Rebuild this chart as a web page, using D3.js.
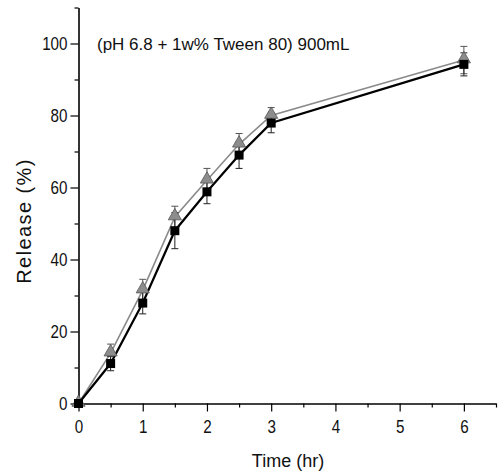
<!DOCTYPE html>
<html>
<head>
<meta charset="utf-8">
<script src="https://cdn.jsdelivr.net/npm/d3@7"></script>
<style>
  body { margin: 0; background: #fff; }
  text { font-family: "Liberation Sans", Arial, sans-serif; fill: #111; }
</style>
</head>
<body>
<div id="chart"></div>
<script>
// release data
const times = [0, 0.5, 1, 1.5, 2, 2.5, 3, 6]
const squareRelease = [0, 11.1, 27.9, 48.0, 58.8, 69.0, 77.9, 94.2]
const squareErr = [0, 2.0, 3.0, 5.0, 3.3, 3.7, 2.7, 3.2]
const triRelease = [0, 14.0, 31.5, 51.8, 62.0, 72.0, 80.0, 95.4]
const triErr = [0, 2.5, 3.0, 3.0, 3.3, 3.0, 2.2, 3.8]
const xTicks = [0, 1, 2, 3, 4, 5, 6]
const yTicks = [0, 20, 40, 60, 80, 100]
const title = "(pH 6.8 + 1w% Tween 80) 900mL"

document.addEventListener("DOMContentLoaded", draw)

function draw(){
    const width = 499, height = 476
    const svg = d3.select("#chart").append("svg")
        .attr("width", width)
        .attr("height", height)

    const x = d3.scaleLinear().domain([0, 6.5]).range([78.5, 496])
    const y = d3.scaleLinear().domain([0, 110]).range([403.5, 7.5])

    // minor ticks first, then major ones with labels
    svg.append("g")
        .attr("transform", "translate(0," + y(0) + ")")
        .call(d3.axisBottom(x).tickValues(d3.range(0.5, 6.6, 1)).tickSize(4).tickFormat(""))
        .call(g => g.select(".domain").remove())
        .selectAll("line").attr("stroke-width", 1.2)
    svg.append("g")
        .attr("transform", "translate(" + x(0) + ",0)")
        .call(d3.axisLeft(y).tickValues(d3.range(10, 111, 20)).tickSize(4).tickFormat(""))
        .call(g => g.select(".domain").remove())
        .selectAll("line").attr("stroke-width", 1.2)

    const xAxis = svg.append("g")
        .attr("transform", "translate(0," + y(0) + ")")
        .call(d3.axisBottom(x).tickValues(xTicks).tickSize(8).tickSizeOuter(0).tickPadding(8).tickFormat(d3.format("d")))
    const yAxis = svg.append("g")
        .attr("transform", "translate(" + x(0) + ",0)")
        .call(d3.axisLeft(y).tickValues(yTicks).tickSize(8).tickSizeOuter(0).tickPadding(3).tickFormat(d3.format("d")))

    for (const g of [xAxis, yAxis]) {
        g.select(".domain").attr("stroke-width", 1.6)
        g.selectAll("line").attr("stroke-width", 1.2)
        g.selectAll("text").attr("font-size", 19).attr("fill", "#111")
            .style("font-family", "Liberation Sans, Arial, sans-serif")
    }
    // the figure's tick digits are narrow, squeeze them a bit
    svg.selectAll(".tick text").each(function(){
        const w = this.getComputedTextLength()
        d3.select(this).attr("textLength", w * 0.8).attr("lengthAdjust", "spacingAndGlyphs")
    })

    svg.append("text")
        .attr("x", 288).attr("y", 467)
        .attr("text-anchor", "middle")
        .attr("font-size", 18)
        .text("Time (hr)")

    svg.append("text")
        .attr("transform", "translate(31,221) rotate(-90)")
        .attr("text-anchor", "middle")
        .attr("font-size", 20)
        .attr("letter-spacing", 1.4)
        .text("Release (%)")

    svg.append("text")
        .attr("x", 97).attr("y", 50)
        .attr("font-size", 17)
        .text(title)

    const triData = times.map((t, i) => ({t: t, v: triRelease[i], e: triErr[i]}))
    const sqData = times.map((t, i) => ({t: t, v: squareRelease[i], e: squareErr[i]}))
    const line = d3.line().x(d => x(d.t)).y(d => y(d.v))

    svg.append("path").datum(triData)
        .attr("d", line).attr("fill", "none")
        .attr("stroke", "#8a8a8a").attr("stroke-width", 1.6)
    svg.append("path").datum(sqData)
        .attr("d", line).attr("fill", "none")
        .attr("stroke", "#000").attr("stroke-width", 2.2)

    function errorBars(data, color){
        const g = svg.append("g").attr("stroke", color).attr("stroke-width", 1)
        data.filter(d => d.e > 0).forEach(d => {
            const cx = x(d.t)
            g.append("line").attr("x1", cx).attr("x2", cx).attr("y1", y(d.v - d.e)).attr("y2", y(d.v + d.e))
            g.append("line").attr("x1", cx - 3.5).attr("x2", cx + 3.5).attr("y1", y(d.v - d.e)).attr("y2", y(d.v - d.e))
            g.append("line").attr("x1", cx - 3.5).attr("x2", cx + 3.5).attr("y1", y(d.v + d.e)).attr("y2", y(d.v + d.e))
        })
    }
    errorBars(triData, "#555")
    errorBars(sqData, "#222")

    svg.append("g").selectAll("path")
        .data(triData)
        .enter()
        .append("path")
        .attr("d", d3.symbol().type(d3.symbolTriangle).size(75))
        .attr("transform", d => "translate(" + x(d.t) + "," + (y(d.v) - 1) + ")")
        .attr("fill", "#8c8c8c")
        .attr("stroke", "#555")
        .attr("stroke-width", 0.8)

    svg.append("g").selectAll("rect")
        .data(sqData)
        .enter()
        .append("rect")
        .attr("x", d => x(d.t) - 4.5)
        .attr("y", d => y(d.v) - 4.5)
        .attr("width", 9)
        .attr("height", 9)
        .attr("fill", "#000")
}
</script>
</body>
</html>
